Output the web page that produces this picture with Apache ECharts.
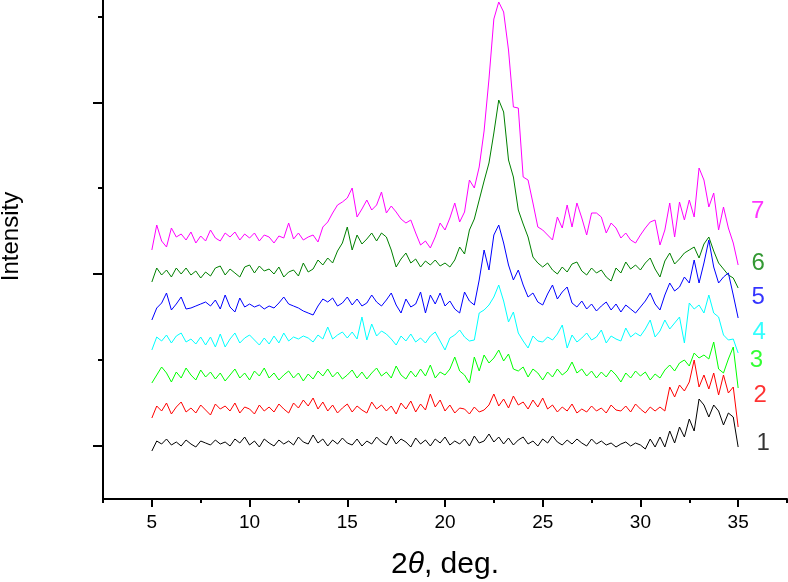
<!DOCTYPE html>
<html>
<head>
<meta charset="utf-8">
<script src="https://cdn.jsdelivr.net/npm/echarts@6/dist/echarts.min.js"></script>
<style>
  html, body { margin: 0; padding: 0; background: #fff; }
  #chart { width: 788px; height: 582px; }
</style>
</head>
<body>
<div id="chart"></div>
<script>
// 2theta from 5 to 35 deg, step 0.25
const angleStart = 5;
const angleStep = 0.25;

// curve heights (stacked, arbitrary intensity units)
const s1 = [
  48, 58, 55, 60, 54, 57, 53, 59, 55, 52, 58, 56, 54, 59, 55, 57,
  53, 60, 56, 62, 54, 58, 52, 60, 56, 53, 59, 55, 58, 54, 62, 57,
  55, 64, 56, 60, 53, 59, 55, 61, 56, 54, 60, 53, 58, 55, 62, 57,
  54, 63, 55, 60, 57, 52, 61, 55, 59, 53, 60, 56, 62, 54, 58, 55,
  60, 53, 63, 56, 58, 65, 57, 62, 55, 61, 54, 59, 62, 55, 58, 53,
  60, 56, 63, 57, 54, 59, 55, 60, 56, 53, 60, 55, 58, 54, 56, 52,
  55, 57, 53, 56, 54, 50, 60, 52, 62, 52, 68, 56, 72, 62, 80, 68,
  100, 94, 82, 94, 88, 74, 86, 82, 52
];
const s2 = [
  81, 93, 88, 96, 85, 92, 97, 87, 91, 86, 94, 89, 84, 95, 90, 93,
  88, 96, 86, 92, 90, 85, 94, 88, 92, 87, 95, 90, 86, 96, 91, 99,
  93, 101, 90, 97, 88, 94, 86, 91, 95, 87, 93, 89, 86, 97, 90, 94,
  88, 93, 85, 96, 90, 98, 87, 95, 89, 105, 92, 99, 88, 94, 86, 91,
  90, 85, 92, 87, 89, 94, 105, 93, 100, 91, 103, 94, 97, 90, 99, 92,
  101, 90, 94, 87, 92, 88, 95, 86, 90, 87, 93, 88, 91, 86, 94, 89,
  88, 93, 87, 95, 90, 86, 92, 88, 92, 88, 112, 102, 114, 108, 117, 139,
  112, 124, 110, 126, 104, 124, 106, 112, 72
];
const s3 = [
  116, 124, 132, 126, 117, 127, 121, 131, 124, 119, 129, 122, 127, 120, 126, 118,
  124, 130, 121, 126, 119, 128, 123, 131, 121, 126, 119, 124, 128, 121, 126, 118,
  125, 120, 128, 123, 130, 122, 127, 120, 124, 129, 121, 127, 120, 126, 131, 123,
  127, 121, 133, 124, 120, 128, 122, 130, 123, 134, 121, 127, 124, 130, 142, 128,
  124, 116, 142, 128, 144, 136, 141, 149, 138, 145, 130, 128, 132, 122, 130, 126,
  119, 127, 122, 130, 124, 128, 137, 126, 130, 123, 128, 121, 127, 122, 129, 124,
  117, 126, 121, 128, 123, 127, 119, 125, 121, 129, 134, 128, 136, 139, 133, 146,
  141, 144, 140, 157, 130, 126, 140, 152, 111
];
const s4 = [
  149, 162, 158, 164, 156, 163, 166, 157, 160, 155, 162, 154, 162, 152, 165, 152,
  160, 166, 156, 161, 164, 159, 154, 161, 155, 163, 156, 166, 158, 162, 160, 163,
  161, 157, 164, 160, 172, 160, 164, 167, 161, 167, 160, 182, 159, 175, 163, 168,
  165, 160, 154, 163, 158, 165, 157, 161, 156, 163, 167, 158, 149, 161, 164, 169,
  162, 158, 159, 186, 189, 194, 202, 214, 198, 177, 187, 166, 158, 151, 163, 158,
  157, 162, 159, 165, 174, 151, 164, 157, 161, 166, 159, 162, 169, 156, 163, 160,
  158, 171, 162, 166, 163, 170, 179, 162, 168, 179, 170, 176, 182, 156, 196, 190,
  194, 186, 204, 186, 182, 164, 159, 160, 146
];
const s5 = [
  179, 191, 196, 206, 189, 195, 202, 190, 191, 193, 195, 197, 193, 199, 190, 204,
  192, 187, 201, 192, 195, 192, 194, 190, 193, 191, 196, 202, 195, 193, 191, 188,
  186, 184, 193, 200, 197, 201, 193, 196, 202, 194, 200, 193, 196, 204, 197, 193,
  199, 206, 194, 186, 200, 192, 195, 207, 186, 204, 195, 206, 193, 198, 190, 186,
  207, 198, 194, 219, 249, 229, 264, 274, 256, 234, 219, 229, 214, 202, 206, 197,
  194, 205, 214, 200, 207, 212, 196, 192, 198, 190, 195, 188, 193, 197, 189, 195,
  187, 194, 190, 186, 192, 198, 206, 195, 189, 204, 216, 208, 212, 222, 216, 239,
  216, 236, 259, 232, 216, 222, 226, 204, 181
];
const s6 = [
  217, 231, 224, 229, 222, 231, 225, 231, 224, 228, 221, 227, 223, 231, 233, 224,
  230, 226, 222, 232, 234, 226, 233, 228, 230, 225, 232, 222, 227, 229, 223, 236,
  227, 230, 239, 234, 241, 236, 248, 256, 272, 249, 264, 255, 260, 266, 258, 266,
  262, 249, 232, 240, 246, 236, 240, 232, 238, 234, 239, 233, 236, 232, 239, 252,
  245, 269, 280, 299, 318, 336, 366, 399, 387, 339, 322, 289, 275, 262, 242, 236,
  232, 236, 229, 225, 232, 227, 235, 237, 228, 224, 231, 226, 229, 222, 218, 231,
  226, 237, 230, 234, 229, 236, 241, 230, 222, 238, 246, 235, 240, 246, 249, 252,
  241, 255, 262, 248, 236, 230, 224, 221, 211
];
const s7 = [
  249, 274, 258, 252, 271, 262, 265, 259, 267, 256, 263, 258, 269, 261, 258, 266,
  262, 267, 259, 265, 261, 266, 258, 264, 262, 256, 263, 261, 276, 260, 266, 259,
  262, 264, 257, 272, 277, 286, 294, 297, 301, 311, 282, 290, 299, 289, 294, 307,
  286, 293, 287, 280, 276, 279, 266, 254, 258, 251, 262, 276, 269, 281, 296, 277,
  287, 319, 311, 332, 368, 420, 480, 497, 487, 449, 392, 391, 322, 319, 296, 272,
  269, 264, 259, 282, 271, 294, 272, 296, 281, 264, 286, 286, 282, 266, 276, 271,
  261, 266, 259, 256, 264, 271, 277, 279, 254, 269, 296, 262, 297, 279, 299, 282,
  331, 319, 292, 306, 269, 292, 271, 256, 234
];

const seriesNames = ['1', '2', '3', '4', '5', '6', '7'];
const seriesColors = ['#000000', '#ff0000', '#00ff00', '#00ffff', '#0000ff', '#008000', '#ff00ff'];
const seriesValues = [s1, s2, s3, s4, s5, s6, s7];

// where the curve numbers sit (x in deg, y in intensity units)
const labelX = [36.28, 36.13, 35.93, 36.08, 36.03, 36.03, 36.0];
const labelY = [56, 104, 139, 167, 202, 236, 288];

const xMajorTicks = [5, 10, 15, 20, 25, 30, 35];
const yMajorTicks = [53.3, 225, 396.7];
const yMinorTicks = [139.2, 310.8, 482.5];

const font = 'Liberation Sans, Arial, Helvetica, sans-serif';

const chart = echarts.init(document.getElementById('chart'));

const lineSeries = seriesValues.map((vals, k) => ({
  type: 'line',
  name: seriesNames[k],
  xAxisIndex: 0,
  yAxisIndex: 0,
  showSymbol: false,
  symbol: 'none',
  lineStyle: { color: seriesColors[k], width: 1 },
  data: vals.map((v, i) => [angleStart + angleStep * i, v]),
  z: 2 + (6 - k)
}));

const labelSeries = {
  type: 'scatter',
  xAxisIndex: 0,
  yAxisIndex: 0,
  symbolSize: 0,
  silent: true,
  data: seriesNames.map((n, k) => ({
    value: [labelX[k], labelY[k]],
    label: {
      show: true,
      position: 'inside',
      formatter: n,
      color: seriesColors[k],
      fontSize: 24,
      fontFamily: font
    }
  })),
  z: 10
};

const option = {
  animation: false,
  backgroundColor: '#fff',
  grid: { left: 103, right: 1, top: 0, bottom: 83, containLabel: false, outerBoundsMode: 'none' },
  xAxis: [
    {
      type: 'value',
      min: 2.5,
      max: 37.5,
      interval: 2.5,
      position: 'bottom',
      offset: 0,
      splitLine: { show: false },
      axisLine: { show: true, lineStyle: { color: '#000', width: 2 } },
      axisTick: { show: true, inside: false, length: 4, lineStyle: { color: '#000', width: 2 } },
      axisLabel: { show: false },
      name: '{n|2}{i|θ}{n|, deg.}',
      nameLocation: 'middle',
      nameGap: 51,
      nameTextStyle: {
        rich: {
          n: { fontSize: 30, fontFamily: font, color: '#000' },
          i: { fontSize: 30, fontFamily: font, fontStyle: 'italic', color: '#000' }
        }
      }
    },
    {
      type: 'value',
      min: 2.5,
      max: 37.5,
      position: 'bottom',
      offset: 0,
      splitLine: { show: false },
      axisLine: { show: false },
      axisTick: { show: true, length: 8, customValues: xMajorTicks, lineStyle: { color: '#000', width: 2 } },
      axisLabel: { show: true, customValues: xMajorTicks, margin: 14, fontSize: 19, fontFamily: font, color: '#000' }
    }
  ],
  yAxis: [
    {
      type: 'value',
      min: 0,
      max: 499,
      position: 'left',
      offset: 0,
      splitLine: { show: false },
      axisLine: { show: true, lineStyle: { color: '#000', width: 2 } },
      axisTick: { show: true, length: 5, customValues: yMinorTicks, lineStyle: { color: '#000', width: 2 } },
      axisLabel: { show: false },
      name: 'Intensity',
      nameLocation: 'middle',
      nameRotate: 90,
      nameGap: 80,
      nameTextStyle: { fontSize: 24, fontFamily: font, color: '#000', padding: [0, 0, 0, 26] }
    },
    {
      type: 'value',
      min: 0,
      max: 499,
      position: 'left',
      offset: 0,
      splitLine: { show: false },
      axisLine: { show: false },
      axisTick: { show: true, length: 10, customValues: yMajorTicks, lineStyle: { color: '#000', width: 2 } },
      axisLabel: { show: false }
    }
  ],
  series: lineSeries.concat([labelSeries])
};

chart.setOption(option);
</script>
</body>
</html>
